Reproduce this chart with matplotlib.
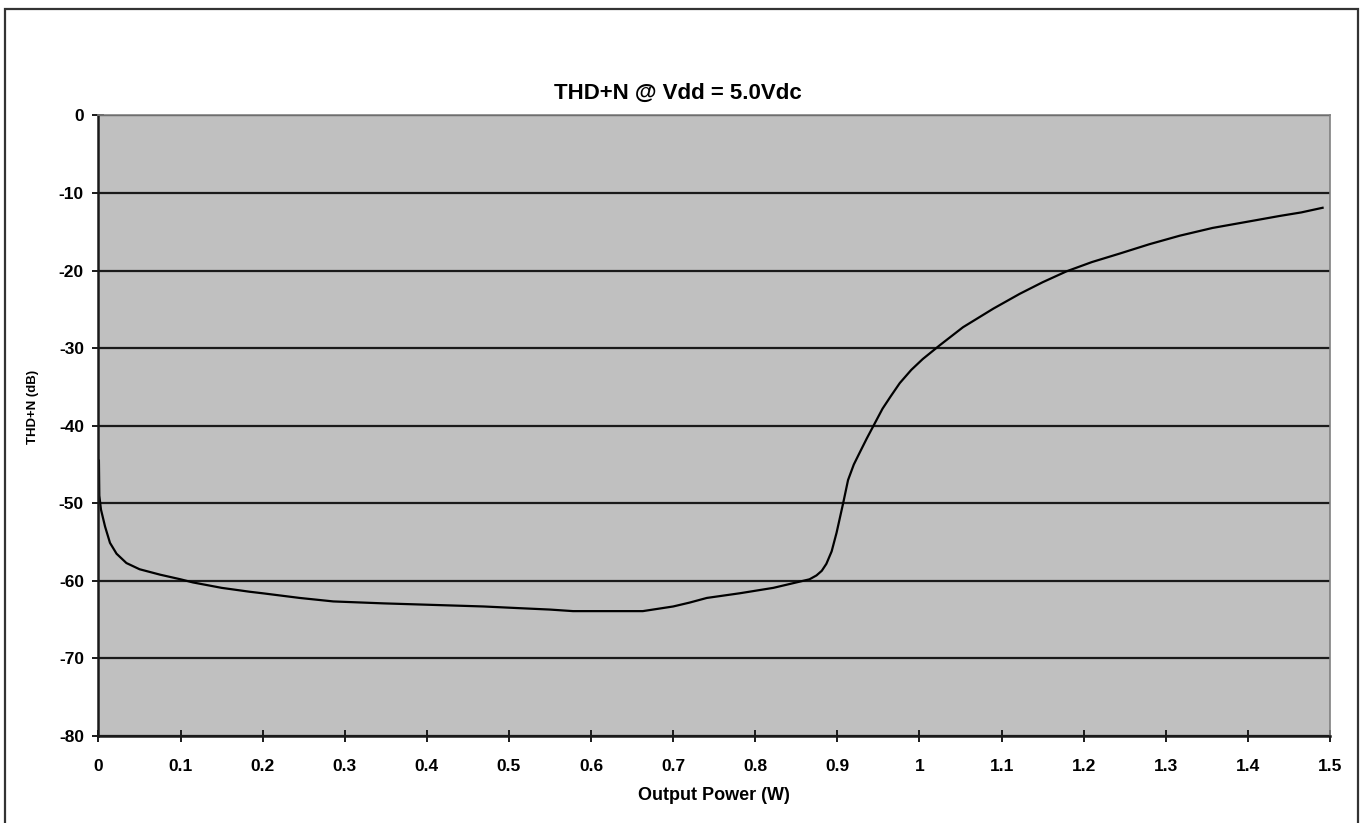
import matplotlib
matplotlib.use("Agg")
import matplotlib.pyplot as plt
from matplotlib.patches import Rectangle
from matplotlib.ticker import MultipleLocator, FuncFormatter

plt.rcParams['font.family'] = ['Liberation Sans', 'DejaVu Sans']
plt.rcParams['font.weight'] = 'bold'
plt.rcParams['axes.unicode_minus'] = False

# THD+N curve
power_w = [0.0005, 0.001, 0.003, 0.008, 0.014, 0.022, 0.034, 0.05, 0.075,
           0.1, 0.115, 0.15, 0.184, 0.2, 0.245, 0.286, 0.347, 0.408, 0.469,
           0.509, 0.55, 0.578, 0.62, 0.663, 0.70, 0.72, 0.741, 0.781, 0.822,
           0.854, 0.866, 0.8745, 0.881, 0.8866, 0.893, 0.899, 0.907, 0.913,
           0.92, 0.927, 0.936, 0.945, 0.955, 0.965, 0.976, 0.99, 1.004,
           1.025, 1.053, 1.09, 1.122, 1.15, 1.179, 1.21, 1.244, 1.28, 1.317,
           1.357, 1.41, 1.439, 1.465, 1.491]
thdn_db = [-44.5, -49.0, -50.8, -53.0, -55.1, -56.5, -57.7, -58.5, -59.2,
           -59.8, -60.2, -60.9, -61.4, -61.6, -62.2, -62.65, -62.9, -63.1,
           -63.3, -63.5, -63.7, -63.9, -63.9, -63.9, -63.3, -62.8, -62.2,
           -61.6, -60.9, -60.1, -59.8, -59.3, -58.7, -57.8, -56.2, -53.8,
           -50.0, -47.0, -45.0, -43.5, -41.6, -39.8, -37.8, -36.2, -34.5,
           -32.8, -31.4, -29.6, -27.3, -24.9, -23.0, -21.5, -20.1, -18.9,
           -17.8, -16.6, -15.5, -14.5, -13.5, -12.95, -12.5, -11.9]

fig = plt.figure(figsize=(13.68, 8.23), dpi=100)
ax = fig.add_axes([0.0720, 0.1057, 0.9002, 0.754])
ax.set_facecolor('#c0c0c0')

ax.plot(power_w, thdn_db, color='black', linewidth=1.6)

ax.set_xlim(0, 1.5)
ax.set_ylim(-80, 0)
ax.xaxis.set_major_locator(MultipleLocator(0.1))
ax.yaxis.set_major_locator(MultipleLocator(10))
ax.xaxis.set_major_formatter(FuncFormatter(lambda v, p: '%g' % round(v, 1)))
ax.yaxis.set_major_formatter(FuncFormatter(lambda v, p: '%d' % round(v)))

ax.yaxis.grid(True, color='#1a1a1a', linewidth=1.6)
ax.set_axisbelow(True)

for side in ['top', 'right']:
    ax.spines[side].set_color('#808080')
    ax.spines[side].set_linewidth(1.2)
for side in ['left', 'bottom']:
    ax.spines[side].set_color('#1a1a1a')
    ax.spines[side].set_linewidth(1.8)

ax.tick_params(axis='both', direction='inout', length=9, width=1.4,
               color='#1a1a1a', labelsize=12.5)
ax.tick_params(axis='x', pad=12)
ax.tick_params(axis='y', pad=6)

fig.text(678 / 1368, 1 - 93.5 / 823, 'THD+N @ Vdd = 5.0Vdc', ha='center',
         va='center', fontsize=16, fontweight='bold')
fig.text(713.5 / 1368, 1 - 796 / 823, 'Output Power (W)', ha='center',
         va='center', fontsize=13, fontweight='bold')
fig.text(33 / 1368, 1 - 406.5 / 823, 'THD+N (dB)', ha='center',
         va='center', fontsize=9.5, fontweight='bold', rotation=90)

# outer frame round the whole chart
fig.patches.append(Rectangle((4.5 / 1368, -0.01), (1358 - 4.5) / 1368,
                             1 - 8.5 / 823 + 0.01, transform=fig.transFigure,
                             fill=False, edgecolor='#333333', linewidth=1.6))

fig.savefig('out.png', dpi=100)
